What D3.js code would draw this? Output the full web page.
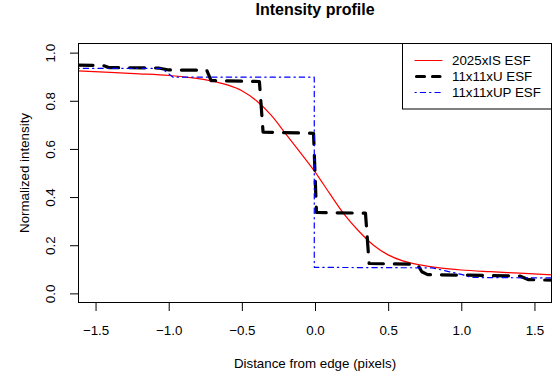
<!DOCTYPE html>
<html>
<head>
<meta charset="utf-8">
<script src="https://cdn.jsdelivr.net/npm/d3@7"></script>
<style>
  body { margin: 0; background: #fff; }
  svg { display: block; font-family: "Liberation Sans", Arial, sans-serif; }
</style>
</head>
<body>
<div id="chart"></div>
<script>
// tick labels
const xTicks = [-1.5, -1.0, -0.5, 0.0, 0.5, 1.0, 1.5];
const yTicks = [0.0, 0.2, 0.4, 0.6, 0.8, 1.0];

const seriesNames = ['2025xIS ESF', '11x11xU ESF', '11x11xUP ESF'];

// 2025xIS ESF (smooth)
const isX = [-1.62, -1.4, -1.2, -1.0, -0.85, -0.72, -0.6, -0.5, -0.4, -0.3, -0.2, -0.1, 0.0,
  0.1, 0.2, 0.3, 0.4, 0.5, 0.6, 0.72, 0.85, 1.0, 1.2, 1.4, 1.62];
const isY = [0.924, 0.918, 0.912, 0.905, 0.896, 0.884, 0.866, 0.842, 0.800, 0.740, 0.663, 0.585, 0.505,
  0.415, 0.328, 0.258, 0.200, 0.160, 0.135, 0.118, 0.106, 0.097, 0.090, 0.084, 0.077];

// 11x11xU ESF (steps)
const uX = [-1.62, -1.45, -1.41, -1.07, -1.0, -0.74, -0.71, -0.38, -0.355, -0.01, 0.01,
  0.345, 0.37, 0.70, 0.73, 0.77, 1.40, 1.46, 1.62];
const uY = [0.948, 0.947, 0.938, 0.936, 0.928, 0.927, 0.884, 0.880, 0.670, 0.665, 0.336,
  0.333, 0.124, 0.121, 0.090, 0.078, 0.072, 0.057, 0.055];

// 11x11xUP ESF
const upX = [-1.62, -1.05, -0.97, -0.005, -0.005, 0.80, 1.0, 1.07, 1.62];
const upY = [0.935, 0.935, 0.898, 0.898, 0.108, 0.106, 0.079, 0.066, 0.064];

const width = 555, height = 375;
const margin = { top: 43, right: 3, bottom: 72, left: 78 };
const font = 13.33;

const svg = d3.select('#chart').append('svg')
  .attr('width', width)
  .attr('height', height);

const x = d3.scaleLinear().domain([-1.62, 1.62]).range([margin.left, width - margin.right]);
const y = d3.scaleLinear().domain([-0.04, 1.04]).range([height - margin.bottom, margin.top]);

svg.append('clipPath').attr('id', 'plot-clip')
  .append('rect')
  .attr('x', margin.left).attr('y', margin.top)
  .attr('width', width - margin.left - margin.right)
  .attr('height', height - margin.top - margin.bottom);

const zip = (xs, ys) => xs.map((v, i) => [v, ys[i]]);

const series = [
  { name: seriesNames[0], pts: zip(isX, isY), color: '#ff0000', w: 1.2, dash: null, curve: d3.curveMonotoneX },
  { name: seriesNames[1], pts: zip(uX, uY), color: '#000000', w: 3.2, dash: '15 11', curve: d3.curveLinear },
  { name: seriesNames[2], pts: zip(upX, upY), color: '#0000ff', w: 1.2, dash: '1.3 4 5.3 4', curve: d3.curveLinear }
];

const g = svg.append('g').attr('clip-path', 'url(#plot-clip)');
series.forEach(s => {
  const line = d3.line().x(d => x(d[0])).y(d => y(d[1])).curve(s.curve);
  g.append('path')
    .attr('d', line(s.pts))
    .attr('fill', 'none')
    .attr('stroke', s.color)
    .attr('stroke-width', s.w)
    .attr('stroke-linecap', 'round')
    .attr('stroke-linejoin', 'round')
    .attr('stroke-dasharray', s.dash);
});

// axes
const fmt = d3.format('.1f');
const xAxis = svg.append('g')
  .attr('transform', `translate(0,${height - margin.bottom})`)
  .call(d3.axisBottom(x).tickValues(xTicks).tickFormat(fmt).tickSize(8).tickPadding(15));
const yAxis = svg.append('g')
  .attr('transform', `translate(${margin.left},0)`)
  .call(d3.axisLeft(y).tickValues(yTicks).tickFormat(fmt).tickSize(8));

[xAxis, yAxis].forEach(a => {
  a.select('.domain').remove();
  a.selectAll('line').attr('stroke', '#000');
  a.selectAll('text')
    .attr('fill', '#000')
    .style('font-size', font + 'px')
    .style('font-family', '"Liberation Sans", Arial, sans-serif');
});
yAxis.selectAll('text')
  .attr('x', 0)
  .attr('dy', null)
  .attr('text-anchor', 'middle')
  .attr('transform', 'translate(-23,0) rotate(-90)');

// plot box
svg.append('rect')
  .attr('x', margin.left + 0.5).attr('y', margin.top + 0.5)
  .attr('width', width - margin.left - margin.right - 1)
  .attr('height', height - margin.top - margin.bottom - 1)
  .attr('fill', 'none')
  .attr('stroke', '#000');

// titles
svg.append('text')
  .attr('x', 315).attr('y', 14.7)
  .attr('text-anchor', 'middle')
  .style('font-size', '16px')
  .style('font-weight', 'bold')
  .text('Intensity profile');

svg.append('text')
  .attr('x', 315).attr('y', 367.5)
  .attr('text-anchor', 'middle')
  .style('font-size', font + 'px')
  .text('Distance from edge (pixels)');

svg.append('text')
  .attr('transform', 'translate(29,173) rotate(-90)')
  .attr('text-anchor', 'middle')
  .style('font-size', font + 'px')
  .text('Normalized intensity');

// legend
const lg = svg.append('g');
lg.append('rect')
  .attr('x', 402.5).attr('y', 43.5)
  .attr('width', 149).attr('height', 65.5)
  .attr('fill', '#fff')
  .attr('stroke', '#000');

series.forEach((s, i) => {
  const ly = 60.5 + i * 16;
  lg.append('line')
    .attr('x1', i === 1 ? 416.5 : 415).attr('x2', i === 1 ? 440 : 442)
    .attr('y1', ly).attr('y2', ly)
    .attr('stroke', s.color)
    .attr('stroke-width', s.w)
    .attr('stroke-linecap', 'round')
    .attr('stroke-dasharray', i === 1 ? '8 8' : s.dash);
  lg.append('text')
    .attr('x', 452).attr('y', ly + 4.8)
    .style('font-size', font + 'px')
    .text(s.name);
});
</script>
</body>
</html>
